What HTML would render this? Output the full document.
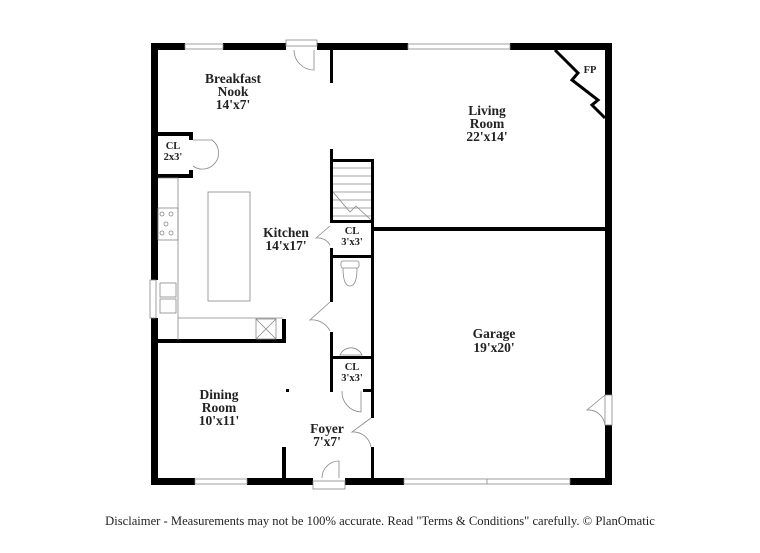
<!DOCTYPE html>
<html><head><style>
html,body{margin:0;padding:0;background:#fff;}
svg{display:block}
text{font-family:"Liberation Serif",serif;font-weight:bold;fill:#222;text-anchor:middle}
</style></head><body>
<svg width="760" height="553" viewBox="0 0 760 553" xmlns="http://www.w3.org/2000/svg">
<g fill="#000">
<rect x="151" y="43" width="34" height="7"/>
<rect x="223" y="43" width="63" height="7"/>
<rect x="317" y="43" width="91" height="7"/>
<rect x="510" y="43" width="102" height="7"/>
<rect x="151" y="43" width="7" height="237"/>
<rect x="151" y="318" width="7" height="167"/>
<rect x="605" y="43" width="7" height="352"/>
<rect x="605" y="425" width="7" height="60"/>
<rect x="151" y="478" width="44" height="7"/>
<rect x="247" y="478" width="66" height="7"/>
<rect x="345" y="478" width="59" height="7"/>
<rect x="570" y="478" width="42" height="7"/>
<rect x="330" y="50" width="3" height="33"/>
<rect x="330" y="149" width="3" height="74"/>
<rect x="330" y="248" width="3" height="54"/>
<rect x="330" y="332" width="3" height="60"/>
<rect x="330" y="159" width="44" height="3"/>
<rect x="371" y="159" width="3" height="259"/>
<rect x="371" y="447" width="3" height="33"/>
<rect x="374" y="227" width="232" height="4"/>
<rect x="333" y="220" width="40" height="3"/>
<rect x="333" y="255" width="40" height="3"/>
<rect x="333" y="356" width="40" height="3"/>
<rect x="363" y="389" width="10" height="3"/>
<rect x="151" y="132" width="42" height="4"/>
<rect x="151" y="174" width="42" height="4"/>
<rect x="189" y="132" width="4" height="8"/>
<rect x="189" y="170" width="4" height="8"/>
<rect x="151" y="339" width="135" height="4"/>
<rect x="282" y="319" width="4" height="24"/>
<rect x="282" y="447" width="4" height="33"/>
<rect x="286" y="389" width="3" height="3"/>
</g>
<g fill="none" stroke="#888" stroke-width="0.8">
<rect x="185" y="44" width="38" height="5"/>
<rect x="408" y="44" width="102" height="5"/>
<rect x="195" y="479" width="52" height="5"/>
<rect x="404" y="479" width="166" height="5"/>
<line x1="487" y1="479" x2="487" y2="484"/>
<rect x="150" y="280" width="6" height="38"/>
<rect x="286" y="40" width="31" height="6"/>
<path d="M314 50 L314 70 A20 20 0 0 1 294 50"/>
<rect x="313" y="481" width="32" height="8"/>
<path d="M339 478 L339 461 A17 17 0 0 0 322 478"/>
<path d="M193 140 L212 140 A15 15 0 0 1 193 166"/>
<path d="M330 226 L316 238 A14 14 0 0 1 330 245"/>
<path d="M330 302 L310 320 A20 20 0 0 1 330 331"/>
<path d="M361 391 L361 412 A20 20 0 0 1 342 391"/>
<path d="M371 418 L352 432 A18 18 0 0 1 371 447"/>
<path d="M605 395 L587 410 A17 17 0 0 1 605 425"/>
<rect x="605" y="395" width="7" height="30"/>
<path d="M158 178 L178 178 L178 318 L283 318 M178 318 L178 340"/>
<rect x="208" y="192" width="42" height="109"/>
<rect x="158" y="208" width="20" height="32"/>
<circle cx="162" cy="214" r="2"/><circle cx="171" cy="214" r="2"/>
<circle cx="166" cy="224" r="2"/><circle cx="162" cy="233" r="2"/><circle cx="171" cy="233" r="2"/>
<rect x="160" y="283" width="16" height="14"/><rect x="160" y="299" width="16" height="14"/>
<rect x="256" y="319" width="20" height="20"/>
<path d="M256 319 L276 339 M276 319 L256 339"/>
<path d="M333 168 H371 M333 176 H371 M333 184 H371 M333 192 H371 M333 200 H371 M333 208 H371 M333 216 H371"/>
<path d="M333 192 L350 212 L356 206 L371 220"/>
<rect x="341" y="261" width="18" height="7" rx="2"/>
<path d="M343 268 Q343 286 350 286 Q357 286 357 268"/>
<path d="M340 355 A12 12 0 0 1 362 355 Z"/>
</g>
<path d="M555 50 L578 73 L572 80 L598 100 L592 105 L605 118" fill="none" stroke="#000" stroke-width="3"/>
<g font-size="13.5">
<text x="233" y="83">Breakfast</text><text x="233" y="96">Nook</text><text x="233" y="109">14'x7'</text>
<text x="487" y="115">Living</text><text x="487" y="128">Room</text><text x="487" y="141">22'x14'</text>
<text x="286" y="237">Kitchen</text><text x="286" y="250">14'x17'</text>
<text x="494" y="338">Garage</text><text x="494" y="352">19'x20'</text>
<text x="219" y="399">Dining</text><text x="219" y="412">Room</text><text x="219" y="425">10'x11'</text>
<text x="327" y="433">Foyer</text><text x="327" y="446">7'x7'</text>
</g>
<g font-size="10.5">
<text x="173" y="149">CL</text><text x="173" y="160">2x3'</text>
<text x="352" y="234">CL</text><text x="352" y="245">3'x3'</text>
<text x="352" y="370">CL</text><text x="352" y="381">3'x3'</text>
<text x="590" y="73">FP</text>
</g>
<text x="380" y="525" font-size="12.6" style="font-weight:normal">Disclaimer - Measurements may not be 100% accurate. Read "Terms &amp; Conditions" carefully. © PlanOmatic</text>
</svg>
</body></html>
